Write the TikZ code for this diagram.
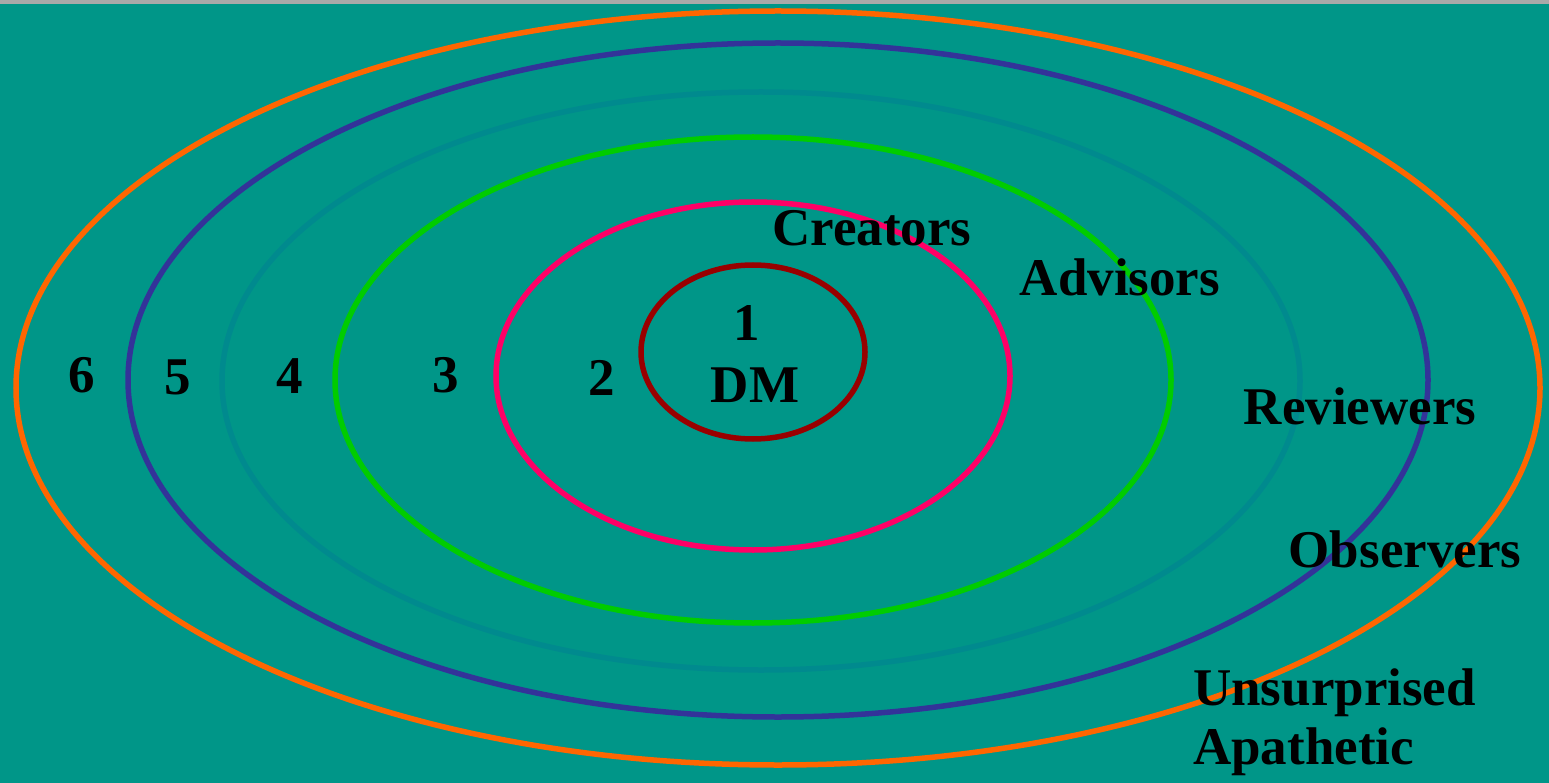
\documentclass[tikz,border=0pt]{standalone}
\usepackage{fontspec}
\setmainfont{Liberation Serif}
\definecolor{bg}{HTML}{009688}
\definecolor{topbar}{HTML}{A9A9A9}
\definecolor{corange}{HTML}{FF6600}
\definecolor{cblue}{HTML}{333399}
\definecolor{cteal}{HTML}{008A8E}
\definecolor{cgreen}{HTML}{00CC00}
\definecolor{cpink}{HTML}{FF0066}
\definecolor{cred}{HTML}{990000}
\tikzset{
  ring/.style={line width=5.5pt},
  lbl/.style={font=\fontsize{53}{59}\selectfont\bfseries, text=black, inner sep=0pt},
}
\begin{document}
\begin{tikzpicture}[x=1pt,y=-1pt]
\useasboundingbox (0,0) rectangle (1549,783);
\fill[bg] (0,0) rectangle (1549,783);
\fill[topbar] (0,0) rectangle (1549,4);
\draw[ring, corange] (778,388) ellipse [x radius=762, y radius=377];
\draw[ring, cblue] (778,380) ellipse [x radius=650, y radius=337];
\draw[ring, cteal] (761,381) ellipse [x radius=539, y radius=289];
\draw[ring, cgreen] (753,380) ellipse [x radius=418, y radius=243];
\draw[ring, cpink] (753,376) ellipse [x radius=257, y radius=174];
\draw[ring, cred] (753,352) ellipse [x radius=112, y radius=87];
\node[lbl] (creators) at (872,228) {Creators};
\node[lbl] (advisors) at (1120,277) {Advisors};
\node[lbl] (reviewers) at (1360,406) {Reviewers};
\node[lbl] (observers) at (1405,549) {Observers};
\node[lbl, anchor=west] (unsurprised) at (1193,693) {Unsurprised};
\node[lbl, anchor=west] (apathetic) at (1193,752) {Apathetic};
\node[lbl] (n6) at (82,375) {6};
\node[lbl] (n5) at (178,377) {5};
\node[lbl] (n4) at (290,376) {4};
\node[lbl] (n3) at (446,375) {3};
\node[lbl] (n2) at (602,378) {2};
\node[lbl] (n1) at (747,323) {1};
\node[lbl] (dm) at (755,385) {DM};
\end{tikzpicture}
\end{document}
